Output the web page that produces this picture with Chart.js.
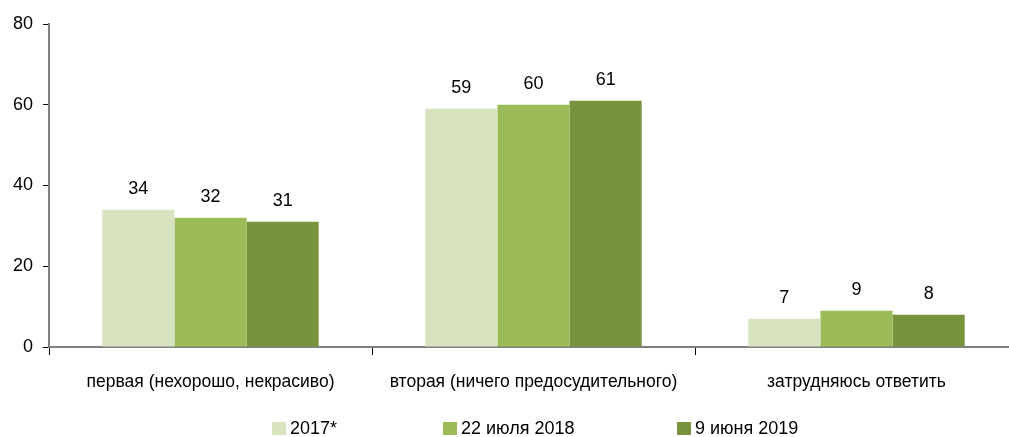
<!DOCTYPE html>
<html>
<head>
<meta charset="utf-8">
<script src="https://cdn.jsdelivr.net/npm/chart.js@4"></script>
<style>
    html, body { margin: 0; padding: 0; background: #fff; overflow: hidden; }
    #wrap { position: relative; width: 1018px; height: 437px; }
    #legend { position: absolute; left: 0; top: 418px; width: 1009px; height: 20px;
        font-family: "Liberation Sans", sans-serif; font-size: 18px; color: #000; }
    #legend span.item { position: absolute; top: 0; white-space: nowrap; line-height: 20px; }
    #legend span.box { display: inline-block; width: 14px; height: 13px; margin-right: 4px; vertical-align: -1px; }
</style>
</head>
<body>
<div id="wrap">
    <canvas id="chart-1" width="1018" height="437"></canvas>
    <div id="legend"></div>
</div>
<script>
var categories = ['первая (нехорошо, некрасиво)', 'вторая (ничего предосудительного)', 'затрудняюсь ответить'];
var seriesNames = ['2017*', '22 июля 2018', '9 июня 2019'];
var values2017 = [34, 59, 7];
var values2018 = [32, 60, 9];
var values2019 = [31, 61, 8];
var yTicks = [0, 20, 40, 60, 80];
var colors = ['#d8e4bf', '#9bbb59', '#77933c'];
var legendX = [272, 443, 677];

var fontFamily = '"Liberation Sans", sans-serif';

var barLabels = {
    id: 'barLabels',
    afterDatasetsDraw: function (chart) {
        var ctx = chart.ctx;
        ctx.save();
        ctx.font = '18px ' + fontFamily;
        ctx.fillStyle = '#000';
        ctx.textAlign = 'center';
        ctx.textBaseline = 'alphabetic';
        chart.data.datasets.forEach(function (ds, i) {
            chart.getDatasetMeta(i).data.forEach(function (bar, j) {
                ctx.fillText(ds.data[j], bar.x, bar.y - 16);
            });
        });
        ctx.restore();
    }
};

new Chart(document.getElementById('chart-1'), {
    type: 'bar',
    data: {
        labels: categories,
        datasets: [
            { label: seriesNames[0], data: values2017, backgroundColor: colors[0] },
            { label: seriesNames[1], data: values2018, backgroundColor: colors[1] },
            { label: seriesNames[2], data: values2019, backgroundColor: colors[2] }
        ]
    },
    options: {
        responsive: false,
        animation: false,
        layout: { padding: { top: 24, right: 0, left: 0, bottom: 0 } },
        datasets: { bar: { categoryPercentage: 0.67, barPercentage: 1 } },
        plugins: { legend: { display: false }, tooltip: { enabled: false } },
        scales: {
            x: {
                offset: true,
                grid: { offset: true, drawOnChartArea: false, drawTicks: true, tickLength: 8, color: '#000' },
                border: { color: '#808080', width: 2 },
                ticks: { font: { family: fontFamily, size: 17.5 }, color: '#000', padding: 17, maxRotation: 0 },
                afterFit: function (scale) { scale.height = 90; }
            },
            y: {
                min: 0, max: 80,
                afterBuildTicks: function (scale) { scale.ticks = yTicks.map(function (v) { return { value: v }; }); },
                grid: { drawOnChartArea: false, drawTicks: true, tickLength: 6, color: '#000' },
                border: { color: '#808080', width: 2 },
                ticks: { font: { family: fontFamily, size: 18 }, color: '#000', padding: 10 },
                afterFit: function (scale) { scale.width = 49; }
            }
        }
    },
    plugins: [barLabels]
});

var legend = document.getElementById('legend');
seriesNames.forEach(function (name, i) {
    var item = document.createElement('span');
    item.className = 'item';
    item.style.left = legendX[i] + 'px';
    var box = document.createElement('span');
    box.className = 'box';
    box.style.background = colors[i];
    item.appendChild(box);
    item.appendChild(document.createTextNode(name));
    legend.appendChild(item);
});
</script>
</body>
</html>
